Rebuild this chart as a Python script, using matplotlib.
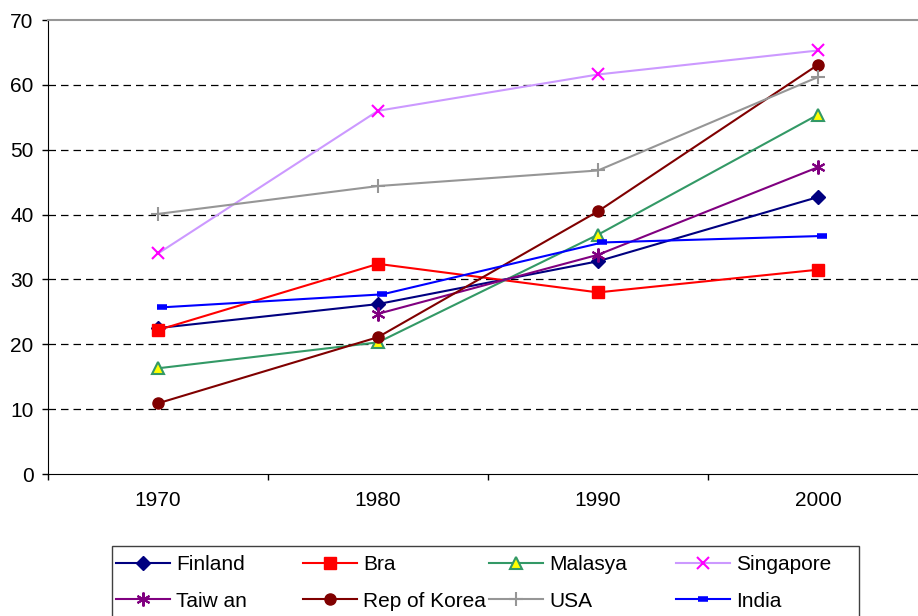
import numpy as np
import matplotlib
matplotlib.use('Agg')
import matplotlib.pyplot as plt
from matplotlib.patches import Rectangle

plt.rcParams['font.family'] = ['Liberation Sans', 'DejaVu Sans']

years = ['1970', '1980', '1990', '2000']
finland = [22.5, 26.2, 32.8, 42.7]
bra = [22.2, 32.4, 28.0, 31.5]
malasya = [16.3, 20.3, 36.9, 55.4]
singapore = [34.0, 56.0, 61.6, 65.3]
taiwan = [np.nan, 24.7, 33.8, 47.3]
korea = [10.9, 21.1, 40.5, 63.1]
usa = [40.1, 44.4, 46.8, 61.2]
india = [25.7, 27.7, 35.7, 36.7]

fig = plt.figure(figsize=(9.18, 6.16), dpi=100)
# plot area runs past the right edge of the picture, like the original crop
ax = fig.add_axes([48/918, (616-474)/616, 880/918, 454/616])
x = np.arange(len(years))

h = {}
h['Finland'], = ax.plot(x, finland, color='#000080', lw=1.5, marker='D', ms=7.5, label='Finland')
h['Bra'], = ax.plot(x, bra, color='#FF0000', lw=1.5, marker='s', ms=8, label='Bra')
h['Malasya'], = ax.plot(x, malasya, color='#339966', lw=1.5, marker='^', ms=9, mfc='#FFFF00',
                        mec='#339966', mew=1.5, label='Malasya')
h['Singapore'], = ax.plot(x, singapore, color='#CC99FF', lw=1.5, marker='x', ms=9, mec='#FF00FF',
                          mew=1.5, label='Singapore')
h['Taiwan'], = ax.plot(x, taiwan, color='#800080', lw=1.5, marker=(6, 2, 0), ms=10, mew=1.5,
                       label='Taiw an')
h['Korea'], = ax.plot(x, korea, color='#800000', lw=1.5, marker='o', ms=8, label='Rep of Korea')
h['USA'], = ax.plot(x, usa, color='#969696', lw=1.5, marker='+', ms=10, mew=1.5, label='USA')
h['India'], = ax.plot(x + 0.02, india, color='#0000FF', lw=1.5, marker='_', ms=7, mew=4, label='India')

ax.set_xlim(-0.5, 3.5)
ax.set_ylim(0, 70)
ax.set_yticks(range(0, 71, 10))
ax.set_xticks(x)
ax.set_xticklabels(years)
ax.set_xticks([-0.5, 0.5, 1.5, 2.5], minor=True)
ax.tick_params(axis='x', which='major', length=0, pad=12, labelsize=15)
ax.tick_params(axis='x', which='minor', length=4.5, width=1, direction='out')
ax.tick_params(axis='y', length=4.5, width=1, direction='out', labelsize=15, pad=6)

for v in range(10, 70, 10):
    ax.axhline(v, color='black', lw=0.9, ls=(0, (6, 4)), zorder=0)

ax.spines['left'].set_color('black')
ax.spines['bottom'].set_color('black')
ax.spines['top'].set_color('#969696')
ax.spines['top'].set_linewidth(1.5)
ax.spines['right'].set_visible(False)

# legend box, cut off at the bottom like the reference
fig.patches.append(Rectangle((112/918, -0.1), (859-112)/918, 0.1 + (616-546)/616,
                             transform=fig.transFigure, fill=False,
                             edgecolor='#404040', lw=1))
columns = [['Finland', 'Taiwan'], ['Bra', 'Korea'], ['Malasya', 'USA'], ['Singapore', 'India']]
col_x = [116, 303, 489, 676]
for names, cx in zip(columns, col_x):
    leg = fig.legend([h[n] for n in names], [h[n].get_label() for n in names],
                     loc='upper left', bbox_to_anchor=(cx/918, 1 - 555/616),
                     fontsize=15, frameon=False, handlelength=2.6,
                     handletextpad=0.3, labelspacing=0.85, borderpad=0,
                     borderaxespad=0)

fig.savefig('out.png', dpi=100)
